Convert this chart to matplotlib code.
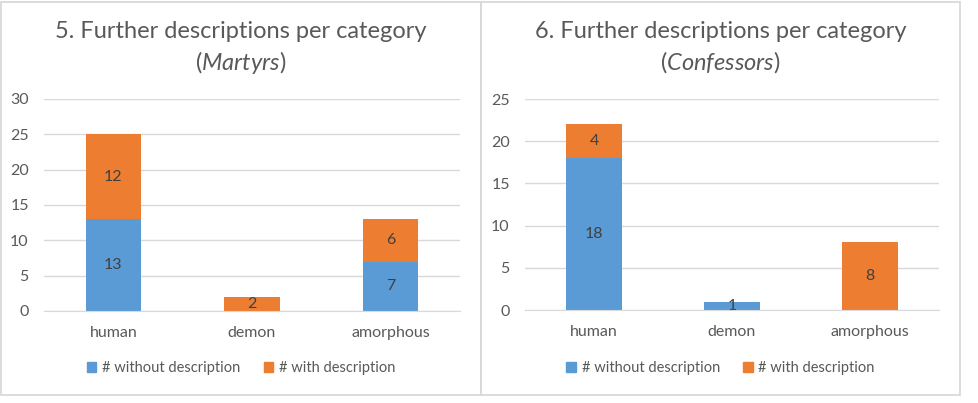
import matplotlib
matplotlib.use('Agg')
import matplotlib.pyplot as plt
from matplotlib.patches import Rectangle, Patch

categories = ['human', 'demon', 'amorphous']
series_names = ['# without description', '# with description']

martyrs_without = [13, 0, 7]
martyrs_with = [12, 2, 6]
confessors_without = [18, 1, 0]
confessors_with = [4, 0, 8]

BLUE = '#5B9BD5'
ORANGE = '#ED7D31'
GRID = '#D9D9D9'
TEXT = '#595959'
LABEL = '#404040'

plt.rcParams['font.family'] = ['Lato', 'DejaVu Sans']
plt.rcParams['mathtext.fontset'] = 'custom'
plt.rcParams['mathtext.rm'] = 'Lato'
plt.rcParams['mathtext.it'] = 'Lato:italic'

W, H = 979, 403
fig = plt.figure(figsize=(W / 100, H / 100), dpi=100)


def px(x0, y0, x1, y1):
    # pixel box (top-left origin) -> figure fraction rect
    return [x0 / W, 1 - y1 / H, (x1 - x0) / W, (y1 - y0) / H]


def draw_chart(rect, panel, without, with_, ymax, number, group):
    # panel border
    bx0, by0, bx1, by1 = panel
    fig.patches.append(Rectangle((bx0 / W, 1 - by1 / H), (bx1 - bx0) / W, (by1 - by0) / H,
                                 transform=fig.transFigure, fill=False,
                                 edgecolor=GRID, linewidth=1.3))
    ax = fig.add_axes(rect)
    x = range(len(categories))
    b1 = ax.bar(x, without, width=0.4, color=BLUE, zorder=3)
    b2 = ax.bar(x, with_, width=0.4, bottom=without, color=ORANGE, zorder=3)
    ax.bar_label(b1, labels=[str(v) if v else '' for v in without],
                 label_type='center', color=LABEL, fontsize=11.5)
    ax.bar_label(b2, labels=[str(v) if v else '' for v in with_],
                 label_type='center', color=LABEL, fontsize=11.5)

    ax.set_xlim(-0.5, len(categories) - 0.5)
    ax.set_ylim(0, ymax)
    ax.set_yticks(range(0, ymax + 1, 5))
    ax.set_xticks(list(x))
    ax.set_xticklabels(categories)
    ax.tick_params(axis='both', length=0, colors=TEXT, labelsize=11.5)
    ax.tick_params(axis='y', pad=11)
    ax.tick_params(axis='x', pad=11)
    ax.grid(axis='y', color=GRID, linewidth=1, zorder=0)
    for s in ['top', 'right', 'left']:
        ax.spines[s].set_visible(False)
    ax.spines['bottom'].set_color(GRID)
    ax.spines['bottom'].set_zorder(4)

    cx = (bx0 + bx1) / 2 / W
    fig.text(cx, 1 - 32 / H, f'{number}. Further descriptions per category',
             ha='center', va='center', fontsize=17, color=TEXT)
    fig.text(cx, 1 - 62 / H, '(' + r'$\mathit{' + group + '}$' + ')',
             ha='center', va='center', fontsize=17, color=TEXT)

    handles = [Patch(color=BLUE), Patch(color=ORANGE)]
    fig.legend(handles, series_names, loc='center', ncol=2, frameon=False,
               bbox_to_anchor=(cx, 1 - 368 / H), fontsize=10.5, labelcolor=TEXT,
               handlelength=0.65, handleheight=0.65, handletextpad=0.4,
               columnspacing=1.6)
    return ax


draw_chart(px(44, 99, 460, 311), (1, 2, 481, 395),
           martyrs_without, martyrs_with, 30, 5, 'Martyrs')
draw_chart(px(525, 99, 939, 310), (481, 2, 960, 395),
           confessors_without, confessors_with, 25, 6, 'Confessors')

plt.savefig('out.png', dpi=100)
